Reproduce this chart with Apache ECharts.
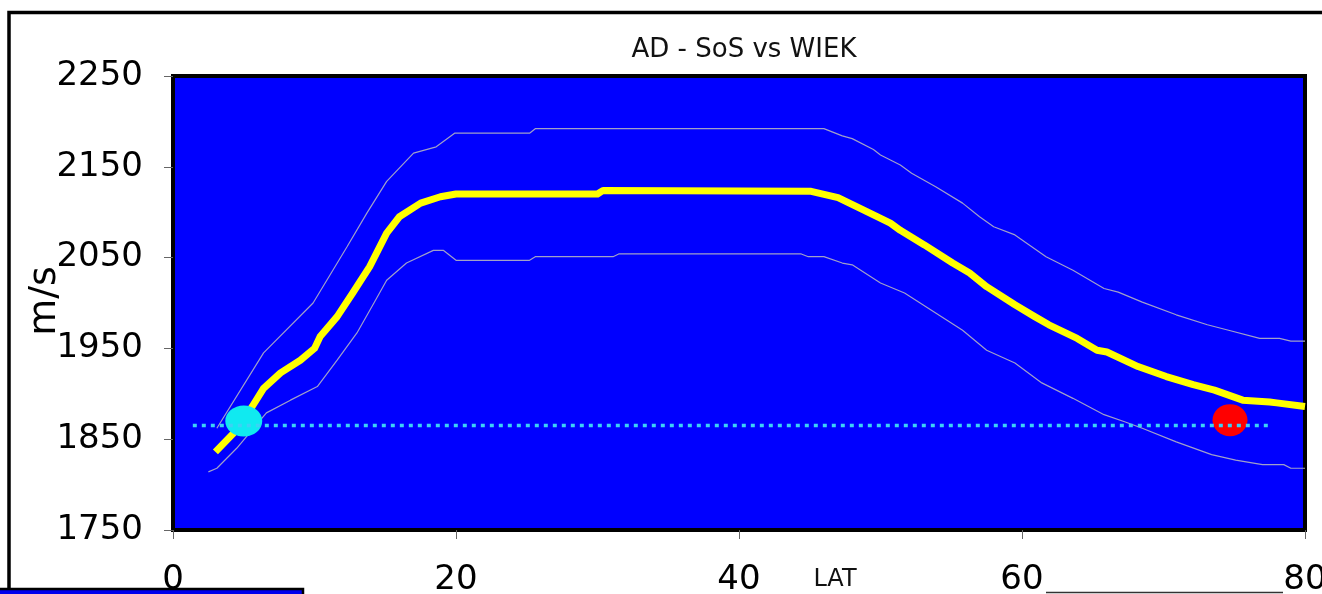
<!DOCTYPE html>
<html>
<head>
<meta charset="utf-8">
<script src="https://cdn.jsdelivr.net/npm/echarts@6/dist/echarts.min.js"></script>
<style>
    html, body { margin: 0; padding: 0; background: #fff; }
    #chart { width: 1322px; height: 594px; }
</style>
</head>
<body>
<div id="chart"></div>
<script type="text/javascript">
    // 平均值 (黄线)
    var meanLat = [3.0, 4.3, 5.6, 6.4, 7.6, 9.0, 10.0, 10.4, 11.6, 12.7, 13.9, 15.1, 16.0, 17.5, 18.9, 20.0, 30.0, 30.4, 45.1, 47.0,
        49.0, 50.7, 51.4, 53.1, 55.1, 56.3, 57.5, 59.5, 60.9, 61.9, 63.9, 65.3, 66.0, 68.2, 70.2, 72.1, 73.6, 75.6, 77.5, 78.0, 80.0];
    var meanSos = [1836, 1857, 1886, 1906, 1923, 1937, 1950, 1963, 1985, 2011, 2040, 2077, 2095, 2110, 2117, 2120, 2120, 2124, 2123, 2116,
        2101, 2088, 2080, 2064, 2044, 2033, 2018, 1998, 1985, 1976, 1961, 1948, 1946, 1930, 1919, 1910, 1904, 1893, 1891, 1890, 1886];
    // 上包络线
    var upperLat = [3.1, 6.4, 9.9, 12.3, 13.7, 15.1, 17.0, 18.6, 19.9, 25.2, 25.6, 46.0, 47.3, 48.0, 49.5, 50.0, 51.4, 52.2, 53.9, 55.8,
        57.0, 58.0, 59.5, 61.7, 63.6, 65.8, 66.8, 68.5, 70.9, 73.1, 74.6, 76.8, 78.2, 79.0, 80.0];
    var upperSos = [1862, 1945, 2000, 2062, 2099, 2134, 2165, 2172, 2187, 2187, 2192, 2192, 2184, 2181, 2169, 2163, 2152, 2143, 2128, 2110,
        2095, 2084, 2075, 2051, 2036, 2016, 2012, 2001, 1987, 1976, 1970, 1961, 1961, 1958, 1958];
    // 下包络线
    var lowerLat = [2.5, 3.1, 4.5, 6.6, 8.3, 10.2, 11.6, 13.0, 14.2, 15.1, 16.5, 18.4, 19.1, 20.0, 25.2, 25.6, 31.1, 31.5, 44.4, 44.9,
        46.0, 47.3, 48.0, 50.0, 51.7, 53.9, 55.8, 57.5, 59.5, 61.4, 63.6, 65.8, 67.3, 68.5, 70.9, 73.4, 75.1, 77.0, 78.5, 79.0, 80.0];
    var lowerSos = [1814, 1818, 1840, 1879, 1893, 1908, 1937, 1967, 2000, 2025, 2044, 2058, 2058, 2047, 2047, 2051, 2051, 2054, 2054, 2051,
        2051, 2044, 2042, 2022, 2011, 1989, 1970, 1948, 1934, 1912, 1895, 1877, 1869, 1862, 1847, 1833, 1827, 1822, 1822, 1818, 1818];
    // WIEK 参考线和两个点
    var wiekLat = [1.4, 77.7];
    var wiekSos = [1865, 1865];
    var startPoint = [5.0, 1870];
    var endPoint = [74.7, 1871];
    // 刻度
    var yTicks = [1750, 1850, 1950, 2050, 2150, 2250];
    var xTicks = [0, 20, 40, 60, 80];

    function zip(xs, ys) {
        var out = [];
        for (var i = 0; i < xs.length; i++) {
            out.push([xs[i], ys[i]]);
        }
        return out;
    }

    var myChart = echarts.init(document.getElementById('chart'));
    var tickFont = {color: '#000', fontSize: 34, fontFamily: 'DejaVu Sans'};

    var option = {
        animation: false,
        backgroundColor: '#fff',
        title: {
            text: 'AD - SoS vs WIEK',
            left: 739,
            top: 32,
            textAlign: 'center',
            textStyle: {fontSize: 26, fontWeight: 'normal', color: '#111', fontFamily: 'DejaVu Sans'}
        },
        grid: {
            left: 173, right: 17, top: 76, bottom: 64,
            containLabel: false,
            outerBoundsMode: 'none',
            show: true,
            backgroundColor: '#0000ff',
            borderColor: '#000',
            borderWidth: 4
        },
        xAxis: {
            type: 'value',
            min: 0, max: 80, interval: 20,
            name: 'LAT',
            nameLocation: 'middle',
            nameGap: 38,
            nameMoveOverlap: false,
            nameTextStyle: {fontSize: 24, color: '#111', fontFamily: 'DejaVu Sans', padding: [0, 0, 0, 192]},
            axisLine: {show: false},
            axisTick: {show: true, length: 9, customValues: xTicks, lineStyle: {color: '#666', width: 1}},
            axisLabel: {margin: 33, customValues: xTicks, formatter: function (v) { return String(v); }, textStyle: tickFont},
            splitLine: {show: false}
        },
        yAxis: {
            type: 'value',
            min: 1750, max: 2250, interval: 50,
            name: 'm/s',
            nameLocation: 'middle',
            nameRotate: 90,
            nameGap: 109,
            nameMoveOverlap: false,
            nameTextStyle: {fontSize: 38, color: '#000', fontFamily: 'DejaVu Sans', padding: [0, 10, 0, 14]},
            axisLine: {show: false},
            axisTick: {show: true, length: 9, customValues: yTicks, lineStyle: {color: '#666', width: 1}},
            axisLabel: {margin: 30, customValues: yTicks, formatter: function (v) { return String(v); }, textStyle: tickFont},
            splitLine: {show: false}
        },
        graphic: [
            {type: 'rect', z: 100, silent: true, shape: {x: 9, y: 12.5, width: 1340, height: 620},
                style: {fill: 'none', stroke: '#000', lineWidth: 3.5}},
            {type: 'rect', z: 101, silent: true, shape: {x: -5, y: 589, width: 308, height: 20},
                style: {fill: '#0000ee', stroke: '#000', lineWidth: 2.5}},
            {type: 'line', z: 101, silent: true, shape: {x1: 1046, y1: 592.5, x2: 1283, y2: 592.5},
                style: {stroke: '#333', lineWidth: 1.5}}
        ],
        series: [
            {
                name: 'upper', type: 'line', z: 2, symbol: 'none',
                lineStyle: {color: '#a0a0c8', width: 1.2},
                data: zip(upperLat, upperSos)
            },
            {
                name: 'lower', type: 'line', z: 2, symbol: 'none',
                lineStyle: {color: '#a0a0c8', width: 1.2},
                data: zip(lowerLat, lowerSos)
            },
            {
                name: 'SoS', type: 'line', z: 3, symbol: 'none',
                lineStyle: {color: '#ffff00', width: 7, join: 'round', cap: 'butt'},
                data: zip(meanLat, meanSos)
            },
            {
                name: 'start', type: 'scatter', z: 4, symbol: 'circle', symbolSize: [37, 31],
                itemStyle: {color: '#10eaf0', opacity: 1},
                data: [startPoint]
            },
            {
                name: 'end', type: 'scatter', z: 4, symbol: 'circle', symbolSize: [35, 32],
                itemStyle: {color: '#ff0000', opacity: 1},
                data: [endPoint]
            },
            {
                name: 'WIEK', type: 'line', z: 5, symbol: 'none',
                lineStyle: {color: '#3cd2f5', width: 3.5, type: [4, 5]},
                data: zip(wiekLat, wiekSos)
            }
        ]
    };
    myChart.setOption(option);
</script>
</body>
</html>
